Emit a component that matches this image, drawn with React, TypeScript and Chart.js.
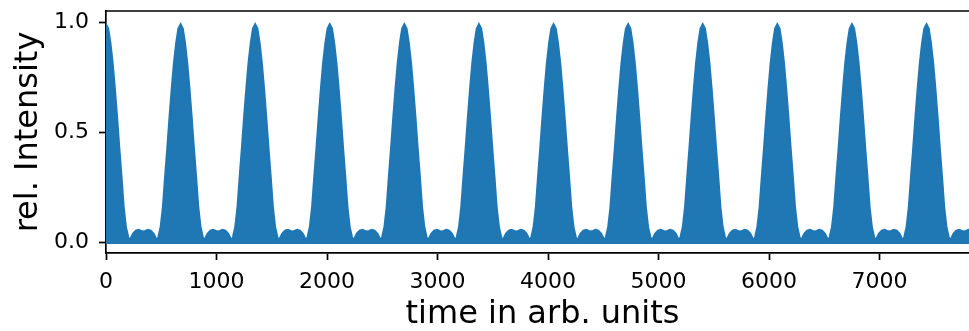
import React, { useEffect, useRef } from "react";
import { Chart, registerables } from "chart.js";

Chart.register(...registerables);

// Envelope: peak centres (time units) and one half-period profile
const PEAK_CENTERS = [0, 675, 1350, 2025, 2700, 3375, 4050, 4725, 5400, 6075, 6750, 7425, 8100];
const PROFILE_OFFSETS = [0, 20, 40, 60, 80, 100, 120, 140, 160, 180, 200, 212, 225, 245, 270, 295, 320, 337];
const PROFILE_VALUES = [0.99, 0.97, 0.905, 0.815, 0.7, 0.57, 0.43, 0.3, 0.16, 0.07, 0.025, 0.008, 0.018, 0.038, 0.052, 0.055, 0.05, 0.048];

const X_TICKS = [0, 1000, 2000, 3000, 4000, 5000, 6000, 7000];
const Y_TICKS = [0, 0.5, 1.0];
const X_TITLE = "time in arb. units";
const Y_TITLE = "rel. Intensity";

const FONT = "'DejaVu Sans', 'Liberation Sans', sans-serif";
const BLUE = "#1f77b4";

function buildPoints() {
  const pts: { x: number; y: number }[] = [];
  PEAK_CENTERS.forEach((c) => {
    for (let i = PROFILE_OFFSETS.length - 1; i > 0; i--) {
      pts.push({ x: c - PROFILE_OFFSETS[i], y: PROFILE_VALUES[i] });
    }
    for (let i = 0; i < PROFILE_OFFSETS.length; i++) {
      pts.push({ x: c + PROFILE_OFFSETS[i], y: PROFILE_VALUES[i] });
    }
  });
  return pts;
}

const topSpine = {
  id: "topSpine",
  afterDraw(chart: any) {
    const { ctx, chartArea } = chart;
    ctx.save();
    ctx.strokeStyle = "#000";
    ctx.lineWidth = 1.7;
    ctx.beginPath();
    ctx.moveTo(chartArea.left - 0.85, chartArea.top);
    ctx.lineTo(chartArea.right + 2, chartArea.top);
    ctx.stroke();
    ctx.restore();
  },
};

export default function App() {
  const ref = useRef<HTMLCanvasElement | null>(null);

  useEffect(() => {
    if (!ref.current) return;
    const chart = new Chart(ref.current, {
      type: "line",
      data: {
        datasets: [
          {
            data: buildPoints(),
            borderColor: BLUE,
            backgroundColor: BLUE,
            borderWidth: 2,
            pointRadius: 0,
            fill: { value: -0.009 },
            clip: 0,
            tension: 0,
          } as any,
        ],
      },
      options: {
        animation: false,
        responsive: false,
        devicePixelRatio: 1,
        layout: { padding: { top: 11, left: 0, right: 1, bottom: 0 } },
        plugins: { legend: { display: false }, tooltip: { enabled: false } },
        scales: {
          x: {
            type: "linear",
            min: 0,
            max: 7900,
            afterFit: (s: any) => {
              s.height = 78;
              s.paddingLeft = 0;
              s.paddingRight = 0;
            },
            afterBuildTicks: (s: any) => {
              s.ticks = X_TICKS.map((v) => ({ value: v }));
            },
            ticks: {
              color: "#000",
              font: { family: FONT, size: 22 },
              padding: 9,
              maxRotation: 0,
              autoSkip: false,
              callback: (v: any) => String(v),
            },
            grid: {
              drawOnChartArea: false,
              tickLength: 7,
              tickWidth: 1.7,
              tickColor: "#000",
            },
            border: { color: "#000", width: 1.7 },
            title: {
              display: true,
              text: X_TITLE,
              color: "#000",
              font: { family: FONT, size: 32, lineHeight: 1 },
              padding: { top: 0, bottom: 0 },
            },
          },
          y: {
            type: "linear",
            min: -0.05,
            max: 1.05,
            afterFit: (s: any) => {
              s.width = 106;
              s.paddingTop = 0;
              s.paddingBottom = 0;
            },
            afterBuildTicks: (s: any) => {
              s.ticks = Y_TICKS.map((v) => ({ value: v }));
            },
            ticks: {
              color: "#000",
              font: { family: FONT, size: 22 },
              padding: 10,
              callback: (v: any) => Number(v).toFixed(1),
            },
            grid: {
              drawOnChartArea: false,
              tickLength: 7,
              tickWidth: 1.7,
              tickColor: "#000",
            },
            border: { color: "#000", width: 1.7 },
            title: {
              display: true,
              text: Y_TITLE,
              color: "#000",
              font: { family: FONT, size: 32, lineHeight: 1 },
              padding: { top: 13, bottom: 0 },
            },
          },
        },
      },
      plugins: [topSpine],
    });
    return () => chart.destroy();
  }, []);

  return (
    <div
      style={{
        position: "absolute",
        left: 0,
        top: 0,
        width: 969,
        height: 331,
        overflow: "hidden",
        background: "#fff",
      }}
    >
      <canvas ref={ref} width={980} height={331} style={{ display: "block" }} />
    </div>
  );
}
